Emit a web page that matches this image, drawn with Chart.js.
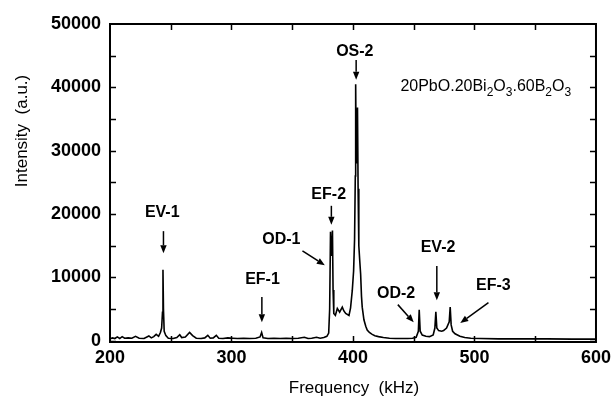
<!DOCTYPE html>
<html>
<head>
<meta charset="utf-8">
<script src="https://cdn.jsdelivr.net/npm/chart.js@4.4.1/dist/chart.umd.min.js"></script>
<style>
  html, body { margin: 0; padding: 0; background: #fff; }
  #wrap { width: 616px; height: 399px; }
</style>
</head>
<body>
<div id="wrap"><canvas id="chart"></canvas></div>
<script>
// spectrum (kHz, a.u.)
const FREQ = [
  200, 202, 204, 206, 208, 210, 212, 215, 218, 221, 224, 228, 232, 234, 236, 238, 240,
  241.5, 242.5, 243.2, 243.6, 244.0, 244.6, 246, 248, 252, 255, 257.4, 259, 262, 265.5,
  268, 271, 275, 278, 280.5, 282.5, 285, 287.5, 289.5, 293, 297, 301, 305, 310, 315, 320,
  323.5, 324.8, 326, 330, 335, 340, 345, 350, 355, 360, 363, 366, 370, 373, 376, 378.5,
  380, 380.8, 381.5, 382.0, 382.6, 383.1, 383.6, 384.2, 385.5, 387.1, 389, 391.2, 392.5,
  394, 396.7, 398, 399.4, 400.5, 401.3, 401.9, 402.2, 402.6, 403.1, 403.7, 404.2, 404.8,
  405.6, 406.3, 407.0, 407.6, 409, 410.5, 411.7, 413.5, 415.8, 418, 421, 425, 430, 435,
  440, 445, 449, 452, 453.8, 454.5, 455.3, 457, 460, 463, 466, 467.4, 468.2, 469, 470.5,
  473, 474.6, 477, 479.2, 480, 480.8, 482, 484, 488, 492, 497, 505, 520, 540, 560, 580, 600
];
const INTENSITY = [
  300, 450, 350, 600, 350, 650, 400, 450, 400, 700, 400, 350, 750, 450, 650, 1000, 700,
  1300, 2000, 4500, 11200, 5000, 1500, 800, 400, 350, 500, 950, 500, 600, 1300,
  800, 400, 350, 450, 850, 400, 450, 850, 400, 350, 450, 400, 350, 400, 350, 400,
  600, 1300, 450, 350, 400, 350, 400, 350, 400, 550, 350, 400, 550, 400, 500, 700,
  1200, 5000, 17200, 13500, 14500, 17400, 8000, 4300, 4000, 5100, 4500, 5300, 4700,
  4300, 4000, 5200, 7900, 11000, 16000, 26000, 40500, 30000, 28000, 36800, 24000, 15000,
  12500, 10500, 7000, 5300, 3300, 2300, 1700, 1300, 1000, 800, 650, 500, 400, 350,
  350, 350, 400, 550, 1500, 4900, 1500, 900, 700, 650, 900, 2000, 4550, 2000, 1600,
  1500, 1600, 2000, 3000, 5300, 2500, 1500, 1100, 700, 500, 400, 350, 300, 300, 300, 250, 250
];

const X_LABEL_TICKS = [200, 300, 400, 500, 600];
const X_MARK_TICKS = [250, 300, 350, 400, 450, 500, 550];
const Y_LABEL_TICKS = [0, 10000, 20000, 30000, 40000, 50000];
const Y_MARK_TICKS = [0, 5000, 10000, 15000, 20000, 25000, 30000, 35000, 40000, 45000];

// peak names with label spot and arrow (data units)
const PEAK_NAMES = ["EV-1", "EF-1", "OD-1", "EF-2", "OS-2", "OD-2", "EV-2", "EF-3"];
const PEAK_TEXT_AT = [
  [243, 20300], [325.5, 9600], [341, 15900], [380, 23100],
  [401.5, 45700], [435.5, 7500], [470, 14700], [515.5, 8650]
];
const PEAK_ARROW_FROM = [
  [244, 17300], [325, 6900], [358.4, 14200], [382.2, 21300],
  [402.6, 44300], [436.9, 5700], [469, 11800], [511.5, 6000]
];
const PEAK_ARROW_TO = [
  [244, 13800], [325, 2900], [376.8, 11900], [382.2, 18300],
  [402.6, 41200], [450, 2900], [469, 6400], [488.3, 2800]
];

const COMPOSITION = [
  ["20PbO.20Bi", false], ["2", true], ["O", false], ["3", true],
  [".60B", false], ["2", true], ["O", false], ["3", true]
];
const COMPOSITION_AT = [439, 39400];

const FONT = '"Liberation Sans", Arial, Helvetica, sans-serif';

function drawArrow(ctx, x1, y1, x2, y2) {
  const ang = Math.atan2(y2 - y1, x2 - x1);
  const head = 8;
  const half = 3.2;
  const bx = x2 - head * Math.cos(ang);
  const by = y2 - head * Math.sin(ang);
  ctx.beginPath();
  ctx.moveTo(x1, y1);
  ctx.lineTo(bx, by);
  ctx.stroke();
  ctx.beginPath();
  ctx.moveTo(x2, y2);
  ctx.lineTo(bx + half * Math.sin(ang), by - half * Math.cos(ang));
  ctx.lineTo(bx - half * Math.sin(ang), by + half * Math.cos(ang));
  ctx.closePath();
  ctx.fill();
}

/** Frame with inward ticks, axis titles and the peak notes. */
const spectrumDecor = {
  id: "spectrumDecor",
  afterDraw(chart) {
    const { ctx, chartArea: a } = chart;
    const xs = chart.scales.x;
    const ys = chart.scales.y;
    const tick = 6;
    ctx.save();
    ctx.strokeStyle = "#000";
    ctx.fillStyle = "#000";

    ctx.lineWidth = 2;
    ctx.strokeRect(a.left, a.top, a.right - a.left, a.bottom - a.top);

    ctx.lineWidth = 1.5;
    ctx.beginPath();
    X_MARK_TICKS.forEach((v) => {
      const px = Math.round(xs.getPixelForValue(v)) + 0.5;
      ctx.moveTo(px, a.bottom);
      ctx.lineTo(px, a.bottom - tick);
      ctx.moveTo(px, a.top);
      ctx.lineTo(px, a.top + tick);
    });
    Y_MARK_TICKS.forEach((v) => {
      const py = Math.round(ys.getPixelForValue(v)) + 0.5;
      ctx.moveTo(a.left, py);
      ctx.lineTo(a.left + tick, py);
      ctx.moveTo(a.right, py);
      ctx.lineTo(a.right - tick, py);
    });
    ctx.stroke();

    // axis titles
    ctx.font = `17px ${FONT}`;
    ctx.textAlign = "center";
    ctx.textBaseline = "middle";
    ctx.fillText("Frequency  (kHz)", 354, 388);
    ctx.save();
    ctx.translate(22, 131);
    ctx.rotate(-Math.PI / 2);
    ctx.fillText("Intensity  (a.u.)", 0, 0);
    ctx.restore();

    // peak notes
    ctx.lineWidth = 1.5;
    ctx.font = `bold 16px ${FONT}`;
    PEAK_NAMES.forEach((name, i) => {
      const [tx, ty] = PEAK_TEXT_AT[i];
      ctx.fillText(name, xs.getPixelForValue(tx), ys.getPixelForValue(ty));
      const [fx, fy] = PEAK_ARROW_FROM[i];
      const [gx, gy] = PEAK_ARROW_TO[i];
      drawArrow(
        ctx,
        xs.getPixelForValue(fx), ys.getPixelForValue(fy),
        xs.getPixelForValue(gx), ys.getPixelForValue(gy)
      );
    });

    // glass composition with subscripts
    ctx.textAlign = "left";
    ctx.textBaseline = "alphabetic";
    let cx = xs.getPixelForValue(COMPOSITION_AT[0]);
    const cy = ys.getPixelForValue(COMPOSITION_AT[1]);
    COMPOSITION.forEach(([part, sub]) => {
      ctx.font = sub ? `12px ${FONT}` : `16px ${FONT}`;
      ctx.fillText(part, cx, sub ? cy + 5 : cy);
      cx += ctx.measureText(part).width;
    });

    ctx.restore();
  },
};

new Chart(document.getElementById("chart"), {
  type: "line",
  data: {
    datasets: [{
      data: FREQ.map((f, i) => ({ x: f, y: INTENSITY[i] })),
      borderColor: "#000",
      borderWidth: 1.6,
      pointRadius: 0,
      tension: 0,
      fill: false,
    }],
  },
  options: {
    responsive: true,
    maintainAspectRatio: false,
    animation: false,
    layout: { padding: { top: 24, right: 18, left: 0, bottom: 0 } },
    plugins: {
      legend: { display: false },
      tooltip: { enabled: false },
    },
    scales: {
      x: {
        type: "linear",
        min: 200,
        max: 600,
        grid: { display: false, drawTicks: false },
        border: { display: false },
        afterBuildTicks(scale) {
          scale.ticks = X_LABEL_TICKS.map((v) => ({ value: v }));
        },
        afterFit(scale) {
          scale.height = 57;
        },
        ticks: {
          color: "#000",
          font: { family: FONT, size: 18, weight: "bold" },
          padding: 5,
          maxRotation: 0,
          callback: (v) => String(v),
        },
      },
      y: {
        type: "linear",
        min: -200,
        max: 50000,
        grid: { display: false, drawTicks: false },
        border: { display: false },
        afterBuildTicks(scale) {
          scale.ticks = Y_LABEL_TICKS.map((v) => ({ value: v }));
        },
        afterFit(scale) {
          scale.width = 110;
        },
        ticks: {
          color: "#000",
          font: { family: FONT, size: 18, weight: "bold" },
          padding: 9,
          callback: (v) => String(v),
        },
      },
    },
  },
  plugins: [spectrumDecor],
});
</script>
</body>
</html>
